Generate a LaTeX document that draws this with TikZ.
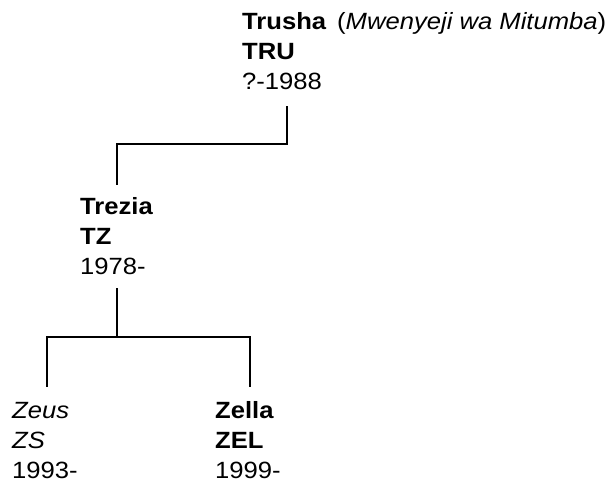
\documentclass[tikz,border=0pt]{standalone}
\usepackage{fontspec}
\setmainfont{Liberation Sans}[FakeStretch=1.09]
\begin{document}
\begin{tikzpicture}[x=1pt,y=1pt,
  person/.style={anchor=base west,inner sep=0pt,font=\fontsize{23.5}{30}\selectfont},
  link/.style={line width=1.3pt,black}]
\useasboundingbox (0,0) rectangle (615,-485);
\node[person] (tru) at (242,-29) {\begin{tabular}[t]{@{}l@{}}\textbf{Trusha}\\\textbf{TRU}\\?-1988\end{tabular}};
\node[person] (note) at (337,-29) {(\textit{Mwenyeji wa Mitumba})};
\node[person] (tz) at (80,-214) {\begin{tabular}[t]{@{}l@{}}\textbf{Trezia}\\\textbf{TZ}\\1978-\end{tabular}};
\node[person] (zs) at (12,-418) {\begin{tabular}[t]{@{}l@{}}\textit{Zeus}\\\textit{ZS}\\1993-\end{tabular}};
\node[person] (zel) at (215,-418) {\begin{tabular}[t]{@{}l@{}}\textbf{Zella}\\\textbf{ZEL}\\1999-\end{tabular}};
\coordinate (truout) at (287,-106);
\coordinate (tzin) at (117,-185);
\coordinate (tzout) at (117,-288);
\coordinate (zsin) at (47,-387);
\coordinate (zelin) at (250,-387);
\draw[link] (truout) -- ++(0,-38) -| (tzin);
\draw[link] (tzout) -- ++(0,-49) -| (zsin);
\draw[link] (tzout) ++(0,-49) -| (zelin);
\end{tikzpicture}
\end{document}
